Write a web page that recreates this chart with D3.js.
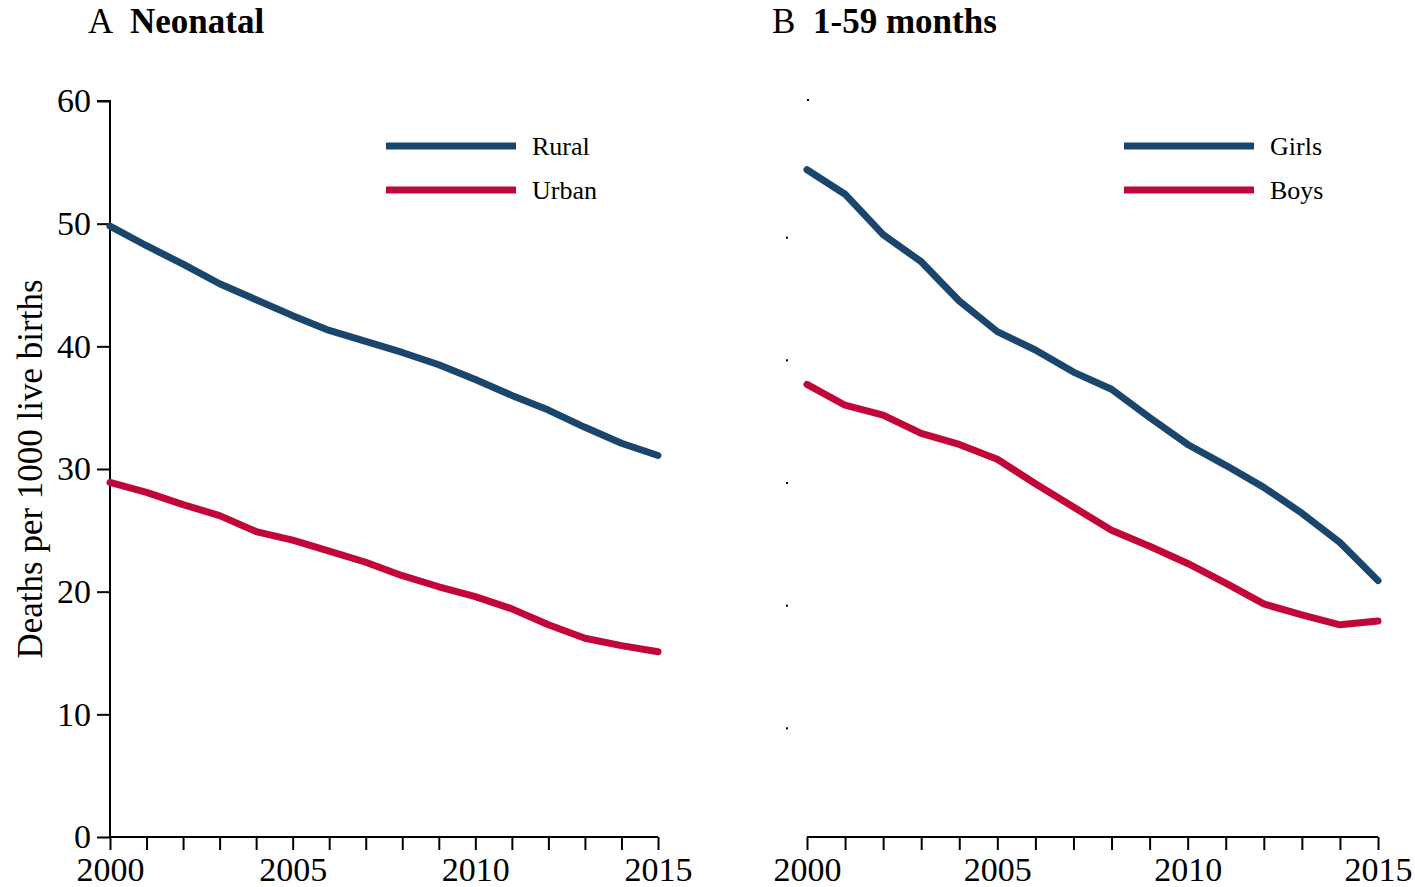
<!DOCTYPE html>
<html>
<head>
<meta charset="utf-8">
<script src="https://cdn.jsdelivr.net/npm/d3@7"></script>
<style>
  body { margin: 0; background: #fff; }
  text { font-family: "Liberation Serif", "Times New Roman", serif; fill: #000; }
</style>
</head>
<body>
<script>
// Width and height of svg
var w = 1415;
var h = 887;

// Years shared by both panels
var years = d3.range(2000, 2016);
var yTicks = [0, 10, 20, 30, 40, 50, 60];
var xTickLabels = [2000, 2005, 2010, 2015];

// Panel A: neonatal mortality
var rural = [49.8, 48.2, 46.7, 45.1, 43.8, 42.5, 41.3, 40.4, 39.5, 38.5, 37.3, 36.0, 34.8, 33.4, 32.1, 31.1];
var urban = [28.9, 28.1, 27.1, 26.2, 24.9, 24.2, 23.3, 22.4, 21.3, 20.4, 19.6, 18.6, 17.3, 16.2, 15.6, 15.1];

// Panel B: 1-59 months
var girls = [54.4, 52.4, 49.1, 46.9, 43.7, 41.2, 39.7, 37.9, 36.5, 34.2, 32.0, 30.3, 28.5, 26.4, 24.0, 20.9];
var boys  = [36.9, 35.2, 34.4, 32.9, 32.0, 30.8, 28.8, 26.9, 25.0, 23.7, 22.3, 20.7, 19.0, 18.1, 17.3, 17.6];

var blue = "#1a466e";
var red = "#c20638";

var svg = d3.select("body")
    .append("svg")
    .attr("width", w)
    .attr("height", h);

// same vertical scale for both panels
var y = d3.scaleLinear()
    .domain([0, 60])
    .range([837, 101]);

var panels = [
    { letter: "A", title: "Neonatal", x0: 110, x1: 658, showY: true,
      series: [{ name: "Rural", values: rural, color: blue }, { name: "Urban", values: urban, color: red }],
      legendX: 386, letterX: 88, titleX: 130 },
    { letter: "B", title: "1-59 months", x0: 807, x1: 1378, showY: false,
      series: [{ name: "Girls", values: girls, color: blue }, { name: "Boys", values: boys, color: red }],
      legendX: 1124, letterX: 772, titleX: 813 }
];

panels.forEach(function(p) {
    var x = d3.scaleLinear()
        .domain([2000, 2015])
        .range([p.x0, p.x1]);

    var g = svg.append("g");

    // panel title
    g.append("text")
        .attr("x", p.letterX)
        .attr("y", 33)
        .attr("font-size", 35)
        .text(p.letter);
    g.append("text")
        .attr("x", p.titleX)
        .attr("y", 33)
        .attr("font-size", 35)
        .attr("font-weight", "bold")
        .text(p.title);

    // x axis
    var xAxis = g.append("g")
        .attr("transform", "translate(0,837)")
        .call(d3.axisBottom(x)
            .tickValues(years)
            .tickSize(13)
            .tickFormat(function(d) { return xTickLabels.indexOf(d) >= 0 ? d : ""; }));
    xAxis.select(".domain").attr("stroke", "#000").attr("stroke-width", 2)
        .attr("d", "M" + p.x0 + ",0H" + p.x1);
    xAxis.selectAll(".tick line").attr("stroke", "#000").attr("stroke-width", 2);
    xAxis.selectAll(".tick text")
        .attr("font-family", "Liberation Serif, serif")
        .attr("font-size", 34)
        .attr("fill", "#000")
        .attr("dy", "0.95em")
        .attr("y", 12);

    if (p.showY) {
        var yAxis = g.append("g")
            .attr("transform", "translate(" + p.x0 + ",0)")
            .call(d3.axisLeft(y).tickValues(yTicks).tickSize(13).tickPadding(6));
        yAxis.select(".domain").attr("stroke", "#000").attr("stroke-width", 2)
            .attr("d", "M-13,101H0V837");
        yAxis.selectAll(".tick line").attr("stroke", "#000").attr("stroke-width", 2);
        yAxis.selectAll(".tick text")
            .attr("font-family", "Liberation Serif, serif")
            .attr("font-size", 34)
            .attr("fill", "#000");

        g.append("text")
            .attr("transform", "translate(42,469) rotate(-90)")
            .attr("text-anchor", "middle")
            .attr("font-size", 35)
            .text("Deaths per 1000 live births");
    } else {
        // faint leftover tick marks in panel B
        g.selectAll("rect.dot")
            .data(yTicks.slice(1, 6))
            .enter().append("rect")
            .attr("x", 786)
            .attr("y", function(d) { return y(d) + 13; })
            .attr("width", 2)
            .attr("height", 2)
            .attr("fill", "#000");
        g.append("rect")
            .attr("x", 807).attr("y", y(60) - 2)
            .attr("width", 2).attr("height", 2).attr("fill", "#000");
    }

    var line = d3.line()
        .x(function(d, i) { return x(years[i]); })
        .y(function(d) { return y(d); });

    p.series.forEach(function(s, i) {
        g.append("path")
            .datum(s.values)
            .attr("d", line)
            .attr("fill", "none")
            .attr("stroke", s.color)
            .attr("stroke-width", 7)
            .attr("stroke-linecap", "round")
            .attr("stroke-linejoin", "round");

        // legend
        var ly = 146 + i * 44;
        g.append("line")
            .attr("x1", p.legendX).attr("x2", p.legendX + 130)
            .attr("y1", ly).attr("y2", ly)
            .attr("stroke", s.color)
            .attr("stroke-width", 7);
        g.append("text")
            .attr("x", p.legendX + 146)
            .attr("y", ly + 9)
            .attr("font-size", 26)
            .text(s.name);
    });
});
</script>
</body>
</html>
